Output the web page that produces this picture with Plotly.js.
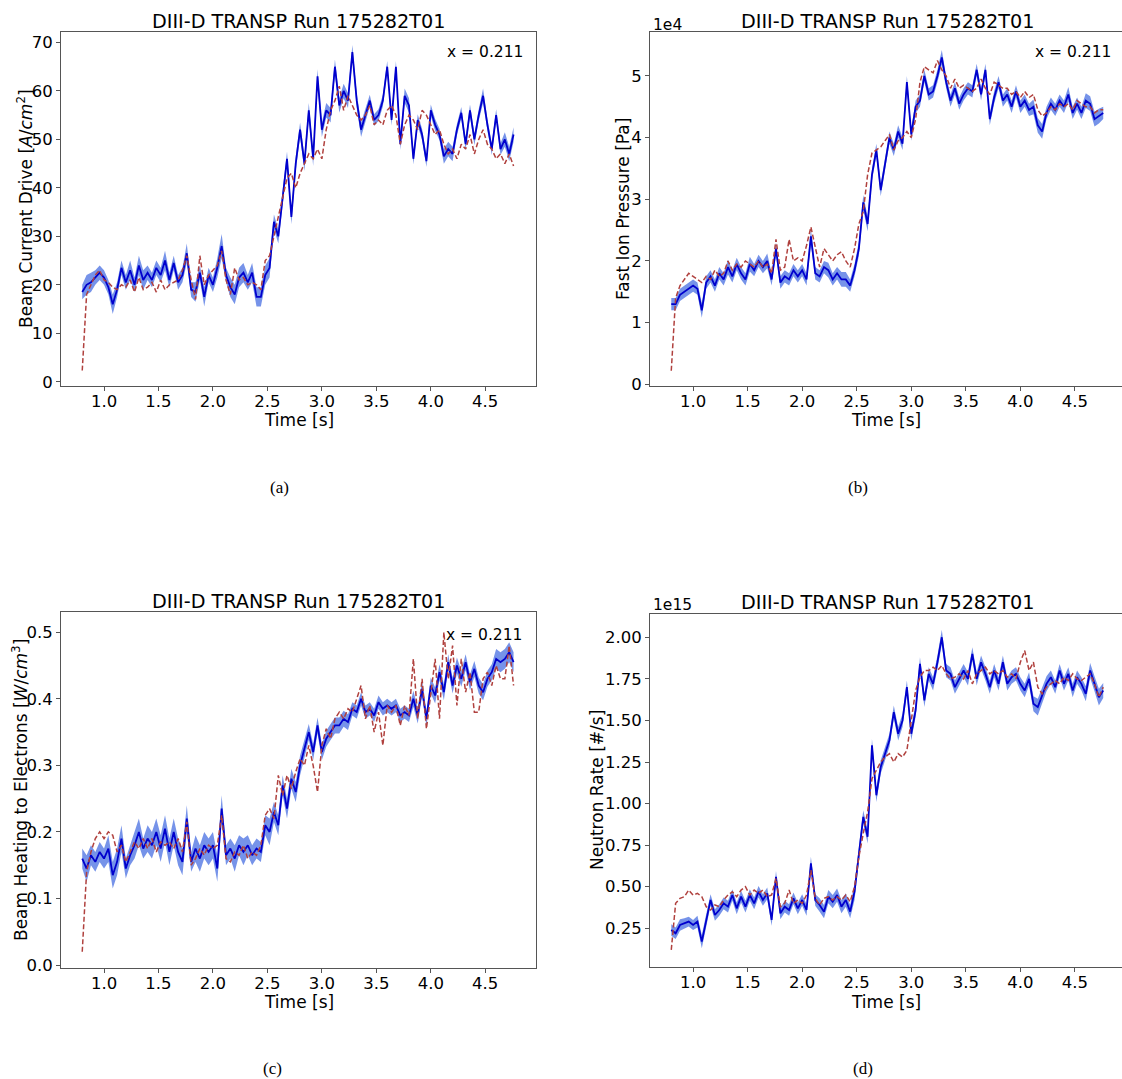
<!DOCTYPE html>
<html>
<head>
<meta charset="utf-8">
<script src="https://cdn.plot.ly/plotly-3.0.1.min.js"></script>
<style>html,body{margin:0;padding:0;background:#fff;}#chart{width:1122px;height:1079px;}</style>
</head>
<body>
<div id="chart"></div>
<script>
// ---------------- DATA ----------------
const time = [
0.80,0.84,0.88,0.92,0.96,1.00,1.04,1.08,1.12,1.16,
1.20,1.24,1.28,1.32,1.36,1.40,1.44,1.48,1.52,1.56,
1.60,1.64,1.68,1.72,1.76,1.80,1.84,1.88,1.92,1.96,
2.00,2.04,2.08,2.12,2.16,2.20,2.24,2.28,2.32,2.36,
2.40,2.44,2.48,2.52,2.56,2.60,2.64,2.68,2.72,2.76,
2.80,2.84,2.88,2.92,2.96,3.00,3.04,3.08,3.12,3.16,
3.20,3.24,3.28,3.32,3.36,3.40,3.44,3.48,3.52,3.56,
3.60,3.64,3.68,3.72,3.76,3.80,3.84,3.88,3.92,3.96,
4.00,4.04,4.08,4.12,4.16,4.20,4.24,4.28,4.32,4.36,
4.40,4.44,4.48,4.52,4.56,4.60,4.64,4.68,4.72,4.76];

// (a) Beam current drive [A/cm^2]
const beamCD_mean = [
18.5,20,20.5,21.5,22.5,21.5,19.5,16,19,23.5,
20.5,23,20,24,21,22.5,21,23.5,22,25,
21,24.5,20.5,22,26.5,19,18.5,22.5,17.5,22,
20,23.5,28,22,19.5,18,21.5,22.5,20.5,22.5,
17.5,17.5,22,23.5,33,30,38,46,34,45,
52,45,56,46,63,52,56,55,65,57,
60,58,68,58,52,55,58,54,55,58,
65,54,65,49,59,57,46,54,51,45.5,
56,53,51,46.5,48,47,52,55.5,49,56,
50,55,59,53,48,55,48,50,47,51];
const beamCD_err = [
1.5,2,2,1.5,1.5,1.5,1.5,2,1.5,1.5,
1.5,2,1.5,2,2,1.5,1.5,1.5,1.5,2,
1.5,1.5,1.5,1.5,2,1.5,2,1.5,2,1.5,
1.5,2,2.5,1.5,2,2,2,2,1.5,2,
2,2,2,2,1.5,1.5,1.5,1.5,1.5,1.5,
1.5,1.5,1.5,1.5,1.5,1.5,1.5,1.5,1.5,1.5,
1.5,1.5,1.5,1.5,1.5,1.2,1.2,1.2,1.2,1.2,
1.2,1.2,1.2,1.2,1.5,1.5,1.2,1.2,1.2,1.2,
1.2,1.2,1.2,1.5,1.5,1.5,1.2,1.2,1.2,1.2,
1.2,1.2,1.5,1.2,1.2,1.2,1.2,1.5,1.5,1.5];
const beamCD_ref = [
2.3,18,20,22,23,21,20.5,19.5,19,20,
19.5,21,18.5,21.5,19,19.5,20.5,18.5,21,19,
20,20.5,21,23,26,21,17,26,20,22,
23,24,27,21,18,23.5,21,21.5,20,20.5,
20,19,25,26,30,34,38,42,43,40,
43,45,47,46,48,46,52,56,58,61,
56,59,57,55,54,55,57,53,54,53,
56,57,55,49,53,55,54,52,56,55,
53,51,52,49,47,48,46,49,48,51,
47,50,52,49,48,46,47,45,47,44.5];

// (b) Fast ion pressure [1e4 Pa]
const fastP_mean = [
1.3,1.3,1.45,1.5,1.55,1.6,1.55,1.2,1.65,1.75,
1.6,1.8,1.7,1.9,1.75,1.95,1.8,1.7,1.95,1.85,
2.0,1.9,2.0,1.7,2.2,1.65,1.75,1.7,1.85,1.75,
1.85,1.7,2.4,1.8,1.75,1.9,1.85,1.7,1.8,1.7,
1.7,1.6,1.85,2.2,2.95,2.6,3.4,3.8,3.15,3.6,
4.0,3.8,4.1,3.9,4.9,4.05,4.5,4.6,5.0,4.7,
4.75,5.0,5.3,4.9,4.6,4.8,4.55,4.7,4.8,4.75,
5.1,4.7,5.1,4.3,4.65,4.9,4.6,4.7,4.5,4.75,
4.5,4.6,4.45,4.5,4.2,4.1,4.4,4.55,4.45,4.6,
4.5,4.7,4.4,4.55,4.4,4.6,4.55,4.3,4.35,4.4];
const fastP_err = [
0.1,0.1,0.1,0.1,0.1,0.1,0.1,0.12,0.1,0.1,
0.1,0.1,0.1,0.12,0.1,0.1,0.1,0.1,0.12,0.1,
0.1,0.1,0.12,0.1,0.1,0.1,0.1,0.1,0.1,0.1,
0.1,0.1,0.12,0.1,0.1,0.1,0.12,0.1,0.1,0.12,
0.12,0.1,0.1,0.12,0.12,0.12,0.1,0.1,0.1,0.1,
0.1,0.1,0.1,0.1,0.1,0.1,0.1,0.1,0.1,0.1,
0.1,0.1,0.12,0.1,0.1,0.1,0.1,0.1,0.1,0.1,
0.1,0.1,0.1,0.1,0.1,0.1,0.1,0.1,0.1,0.1,
0.1,0.1,0.1,0.12,0.12,0.12,0.1,0.1,0.1,0.1,
0.1,0.12,0.1,0.1,0.1,0.12,0.12,0.12,0.12,0.1];
const fastP_ref = [
0.22,1.4,1.6,1.7,1.8,1.75,1.7,1.65,1.75,1.7,
1.85,1.75,1.8,2.0,1.85,1.95,1.9,2.0,1.95,1.9,
2.0,1.9,1.95,1.8,2.35,1.85,1.9,2.35,2.0,2.05,
2.0,2.25,2.55,2.2,1.9,2.2,2.1,2.0,2.1,2.15,
2.0,1.9,2.2,2.6,2.8,3.4,3.75,3.8,3.85,3.95,
4.05,3.8,3.95,4.0,4.1,4.0,4.3,4.9,5.15,5.1,
5.05,5.25,5.1,5.0,4.8,4.95,4.8,4.85,4.8,4.75,
4.8,4.95,4.8,4.7,4.9,4.85,4.8,4.8,4.7,4.75,
4.65,4.75,4.65,4.7,4.45,4.35,4.4,4.5,4.45,4.55,
4.5,4.55,4.45,4.6,4.55,4.5,4.5,4.4,4.45,4.45];

// (c) Beam heating to electrons [W/cm^3]
const beamHe_mean = [
0.16,0.145,0.165,0.155,0.17,0.16,0.175,0.135,0.155,0.19,
0.145,0.165,0.18,0.2,0.175,0.19,0.18,0.2,0.175,0.205,
0.17,0.2,0.17,0.155,0.22,0.155,0.175,0.16,0.18,0.17,
0.18,0.145,0.235,0.165,0.175,0.16,0.18,0.17,0.18,0.165,
0.175,0.17,0.21,0.2,0.23,0.21,0.27,0.235,0.28,0.26,
0.3,0.325,0.35,0.32,0.36,0.32,0.34,0.35,0.36,0.36,
0.37,0.365,0.385,0.38,0.4,0.38,0.385,0.375,0.395,0.385,
0.39,0.385,0.39,0.375,0.38,0.375,0.4,0.375,0.415,0.37,
0.42,0.405,0.44,0.41,0.455,0.42,0.45,0.43,0.455,0.425,
0.445,0.42,0.41,0.43,0.44,0.46,0.455,0.46,0.47,0.455];
const beamHe_err = [
0.015,0.02,0.015,0.015,0.015,0.015,0.02,0.02,0.02,0.02,
0.015,0.015,0.02,0.02,0.015,0.02,0.02,0.02,0.02,0.02,
0.02,0.02,0.02,0.02,0.02,0.015,0.02,0.02,0.02,0.02,
0.02,0.02,0.02,0.015,0.015,0.02,0.015,0.02,0.015,0.015,
0.015,0.015,0.015,0.02,0.015,0.015,0.015,0.015,0.015,0.015,
0.015,0.015,0.012,0.012,0.012,0.012,0.012,0.012,0.012,0.012,
0.012,0.012,0.01,0.01,0.01,0.01,0.01,0.01,0.01,0.01,
0.01,0.01,0.01,0.01,0.01,0.01,0.012,0.012,0.012,0.012,
0.012,0.012,0.012,0.012,0.012,0.012,0.012,0.012,0.012,0.012,
0.012,0.012,0.012,0.012,0.012,0.015,0.015,0.015,0.015,0.015];
const beamHe_ref = [
0.02,0.14,0.17,0.19,0.2,0.19,0.2,0.195,0.17,0.18,
0.155,0.17,0.185,0.175,0.19,0.175,0.19,0.17,0.185,0.18,
0.185,0.175,0.19,0.17,0.215,0.15,0.16,0.175,0.165,0.18,
0.175,0.18,0.225,0.16,0.155,0.17,0.165,0.18,0.16,0.17,
0.165,0.18,0.225,0.235,0.22,0.285,0.255,0.285,0.265,0.29,
0.31,0.3,0.33,0.3,0.26,0.33,0.355,0.34,0.37,0.38,
0.37,0.385,0.38,0.4,0.42,0.37,0.39,0.35,0.38,0.33,
0.39,0.38,0.39,0.36,0.39,0.375,0.46,0.37,0.43,0.355,
0.41,0.46,0.37,0.5,0.43,0.48,0.39,0.46,0.41,0.44,
0.38,0.38,0.43,0.44,0.42,0.45,0.43,0.43,0.48,0.42];

// (d) Neutron rate [1e15 #/s]
const neut_mean = [
0.24,0.22,0.27,0.28,0.29,0.27,0.29,0.17,0.3,0.42,
0.33,0.36,0.4,0.38,0.45,0.37,0.44,0.38,0.45,0.4,
0.47,0.42,0.46,0.3,0.56,0.34,0.38,0.36,0.43,0.37,
0.42,0.36,0.64,0.42,0.39,0.35,0.44,0.41,0.45,0.38,
0.42,0.35,0.47,0.7,0.92,0.8,1.35,1.05,1.22,1.3,
1.38,1.55,1.42,1.5,1.7,1.42,1.56,1.84,1.62,1.78,
1.72,1.85,2.0,1.8,1.78,1.7,1.75,1.8,1.75,1.9,
1.75,1.85,1.78,1.7,1.8,1.72,1.85,1.72,1.76,1.78,
1.72,1.68,1.75,1.6,1.58,1.65,1.72,1.76,1.7,1.8,
1.72,1.78,1.68,1.76,1.72,1.66,1.8,1.72,1.64,1.68];
const neut_err = [
0.035,0.035,0.035,0.03,0.03,0.03,0.035,0.04,0.035,0.035,
0.035,0.035,0.035,0.035,0.035,0.035,0.035,0.035,0.035,0.035,
0.035,0.035,0.035,0.035,0.035,0.035,0.035,0.035,0.035,0.035,
0.035,0.035,0.04,0.035,0.04,0.04,0.04,0.04,0.04,0.04,
0.04,0.04,0.05,0.04,0.04,0.04,0.04,0.04,0.04,0.04,
0.04,0.04,0.04,0.04,0.04,0.04,0.04,0.04,0.04,0.04,
0.04,0.04,0.045,0.04,0.04,0.04,0.04,0.04,0.04,0.04,
0.04,0.04,0.04,0.04,0.04,0.04,0.04,0.04,0.04,0.04,
0.04,0.04,0.04,0.045,0.05,0.05,0.045,0.04,0.04,0.04,
0.04,0.04,0.04,0.04,0.04,0.045,0.045,0.045,0.05,0.045];
const neut_ref = [
0.12,0.4,0.43,0.44,0.48,0.45,0.46,0.44,0.38,0.36,
0.39,0.38,0.42,0.45,0.47,0.44,0.48,0.5,0.45,0.48,
0.46,0.48,0.44,0.45,0.55,0.38,0.4,0.48,0.4,0.42,
0.4,0.45,0.6,0.43,0.39,0.43,0.44,0.42,0.44,0.42,
0.45,0.41,0.5,0.68,0.82,0.95,1.15,1.2,1.25,1.28,
1.3,1.25,1.3,1.28,1.32,1.5,1.68,1.76,1.8,1.8,
1.82,1.8,1.83,1.78,1.75,1.76,1.78,1.75,1.8,1.72,
1.78,1.8,1.82,1.78,1.8,1.78,1.8,1.76,1.78,1.75,
1.85,1.92,1.8,1.85,1.7,1.66,1.7,1.72,1.74,1.72,
1.76,1.74,1.78,1.75,1.74,1.76,1.78,1.72,1.64,1.7];

const titleText = 'DIII-D TRANSP Run 175282T01';
const posLabel = 'x = 0.211';
const xTicks = [1.0,1.5,2.0,2.5,3.0,3.5,4.0,4.5];

// ---------------- BUILD ----------------
const W = 1122, H = 1079;
const px = x => x / W, py = y => 1 - y / H;

const panels = [
  {mean: beamCD_mean, err: beamCD_err, ref: beamCD_ref, xa:'x', ya:'y'},
  {mean: fastP_mean, err: fastP_err, ref: fastP_ref, xa:'x2', ya:'y2'},
  {mean: beamHe_mean, err: beamHe_err, ref: beamHe_ref, xa:'x3', ya:'y3'},
  {mean: neut_mean, err: neut_err, ref: neut_ref, xa:'x4', ya:'y4'}
];

const traces = [];
panels.forEach(p => {
  const lo = p.mean.map((v,i) => v - p.err[i]);
  const hi = p.mean.map((v,i) => v + p.err[i]);
  traces.push({x: time, y: lo, xaxis:p.xa, yaxis:p.ya, mode:'lines', line:{width:0, color:'rgba(0,0,0,0)'}, hoverinfo:'skip', showlegend:false});
  traces.push({x: time, y: hi, xaxis:p.xa, yaxis:p.ya, mode:'lines', line:{width:0, color:'rgba(0,0,0,0)'}, fill:'tonexty', fillcolor:'rgba(65,105,225,0.72)', hoverinfo:'skip', showlegend:false});
  traces.push({x: time, y: p.mean, xaxis:p.xa, yaxis:p.ya, mode:'lines', line:{width:1.8, color:'#0000CD'}, hoverinfo:'skip', showlegend:false});
  traces.push({x: time, y: p.ref, xaxis:p.xa, yaxis:p.ya, mode:'lines', line:{width:1.5, color:'#B0413E', dash:'5px,2.5px'}, hoverinfo:'skip', showlegend:false});
});

const axBase = {
  showline:true, linecolor:'#555', linewidth:1, ticks:'outside', ticklen:4, tickcolor:'#555',
  showgrid:false, zeroline:false, tickfont:{size:16.5, color:'#000', family:'DejaVu Sans'}, fixedrange:true
};
const xAx = (dom, rng, anchor) => Object.assign({}, axBase, {domain:dom, range:rng, anchor:anchor, mirror:true, tickvals:xTicks, tickformat:'.1f', ticklabelstandoff:-4});
const yAx = (dom, rng, anchor, mirror, dtick, fmt, t0) => Object.assign({}, axBase, {domain:dom, range:rng, anchor:anchor, mirror:mirror, dtick:dtick, tick0:t0, tickformat:fmt});

const leftX = [px(61), px(536)];
const rightX = [px(650), 1];
const topY = [py(385.7), py(32.3)];
const botYc = [py(967.7), py(612.3)];
const botYd = [py(966.7), py(614)];

const layout = {
  width: W, height: H, margin:{l:0,r:0,t:0,b:0}, showlegend:false,
  paper_bgcolor:'#fff', plot_bgcolor:'#fff',
  font:{family:'DejaVu Sans', size:16, color:'#000'},
  xaxis: xAx(leftX, [0.605, 4.966], 'y'),
  yaxis: yAx(topY, [-0.82, 72.1], 'x', true, 10, 'd', 0),
  xaxis2: xAx(rightX, [0.605, 4.932], 'y2'),
  yaxis2: yAx(topY, [-0.023, 5.708], 'x2', false, 1, 'd', 0),
  xaxis3: xAx(leftX, [0.605, 4.966], 'y3'),
  yaxis3: yAx(botYc, [-0.004, 0.530], 'x3', true, 0.1, '.1f', 0),
  xaxis4: xAx(rightX, [0.605, 4.932], 'y4'),
  yaxis4: yAx(botYd, [0.019, 2.14], 'x4', false, 0.25, '.2f', 0),
  annotations: []
};

const ann = (text, x, y, opts) => Object.assign({text:text, x:px(x), y:py(y), xref:'paper', yref:'paper', showarrow:false, xanchor:'center', yanchor:'middle', font:{size:17, color:'#000', family:'DejaVu Sans'}}, opts||{});

const A = layout.annotations;
const tFont = {size:19.2, color:'#000', family:'DejaVu Sans'};
const sFont = {size:15.5, color:'#000', family:'DejaVu Sans'};
// titles
A.push(ann(titleText, 298.5, 21, {font:tFont}));
A.push(ann(titleText, 887, 21, {font:tFont}));
A.push(ann(titleText, 298.5, 601, {font:tFont}));
A.push(ann(titleText, 887, 602, {font:tFont}));
// position labels
A.push(ann(posLabel, 525, 52, {xanchor:'right', font:sFont}));
A.push(ann(posLabel, 1113, 52, {xanchor:'right', font:sFont}));
A.push(ann(posLabel, 524, 635, {xanchor:'right', font:sFont}));
// offset labels
A.push(ann('1e4', 651, 25, {xanchor:'left', font:sFont}));
A.push(ann('1e15', 651, 605, {xanchor:'left', font:sFont}));
// x titles
A.push(ann('Time [s]', 298.5, 420));
A.push(ann('Time [s]', 886, 420));
A.push(ann('Time [s]', 298.5, 1002));
A.push(ann('Time [s]', 886, 1002));
// y titles
A.push(ann('Beam Current Drive [<i>A</i>/<i>cm</i><sup>2</sup>]', 25, 209, {textangle:-90}));
A.push(ann('Fast Ion Pressure [Pa]', 623, 209, {textangle:-90}));
A.push(ann('Beam Heating to Electrons [<i>W</i>/<i>cm</i><sup>3</sup>]', 20, 790, {textangle:-90}));
A.push(ann('Neutron Rate [#/s]', 597, 790, {textangle:-90}));
// sub-captions
const capFont = {size:17, color:'#000', family:'Liberation Serif'};
A.push(ann('(a)', 279, 487, {font:capFont}));
A.push(ann('(b)', 858, 487, {font:capFont}));
A.push(ann('(c)', 272, 1068, {font:capFont}));
A.push(ann('(d)', 863, 1068, {font:capFont}));

Plotly.newPlot('chart', traces, layout, {displayModeBar:false, staticPlot:true});
</script>
</body>
</html>
